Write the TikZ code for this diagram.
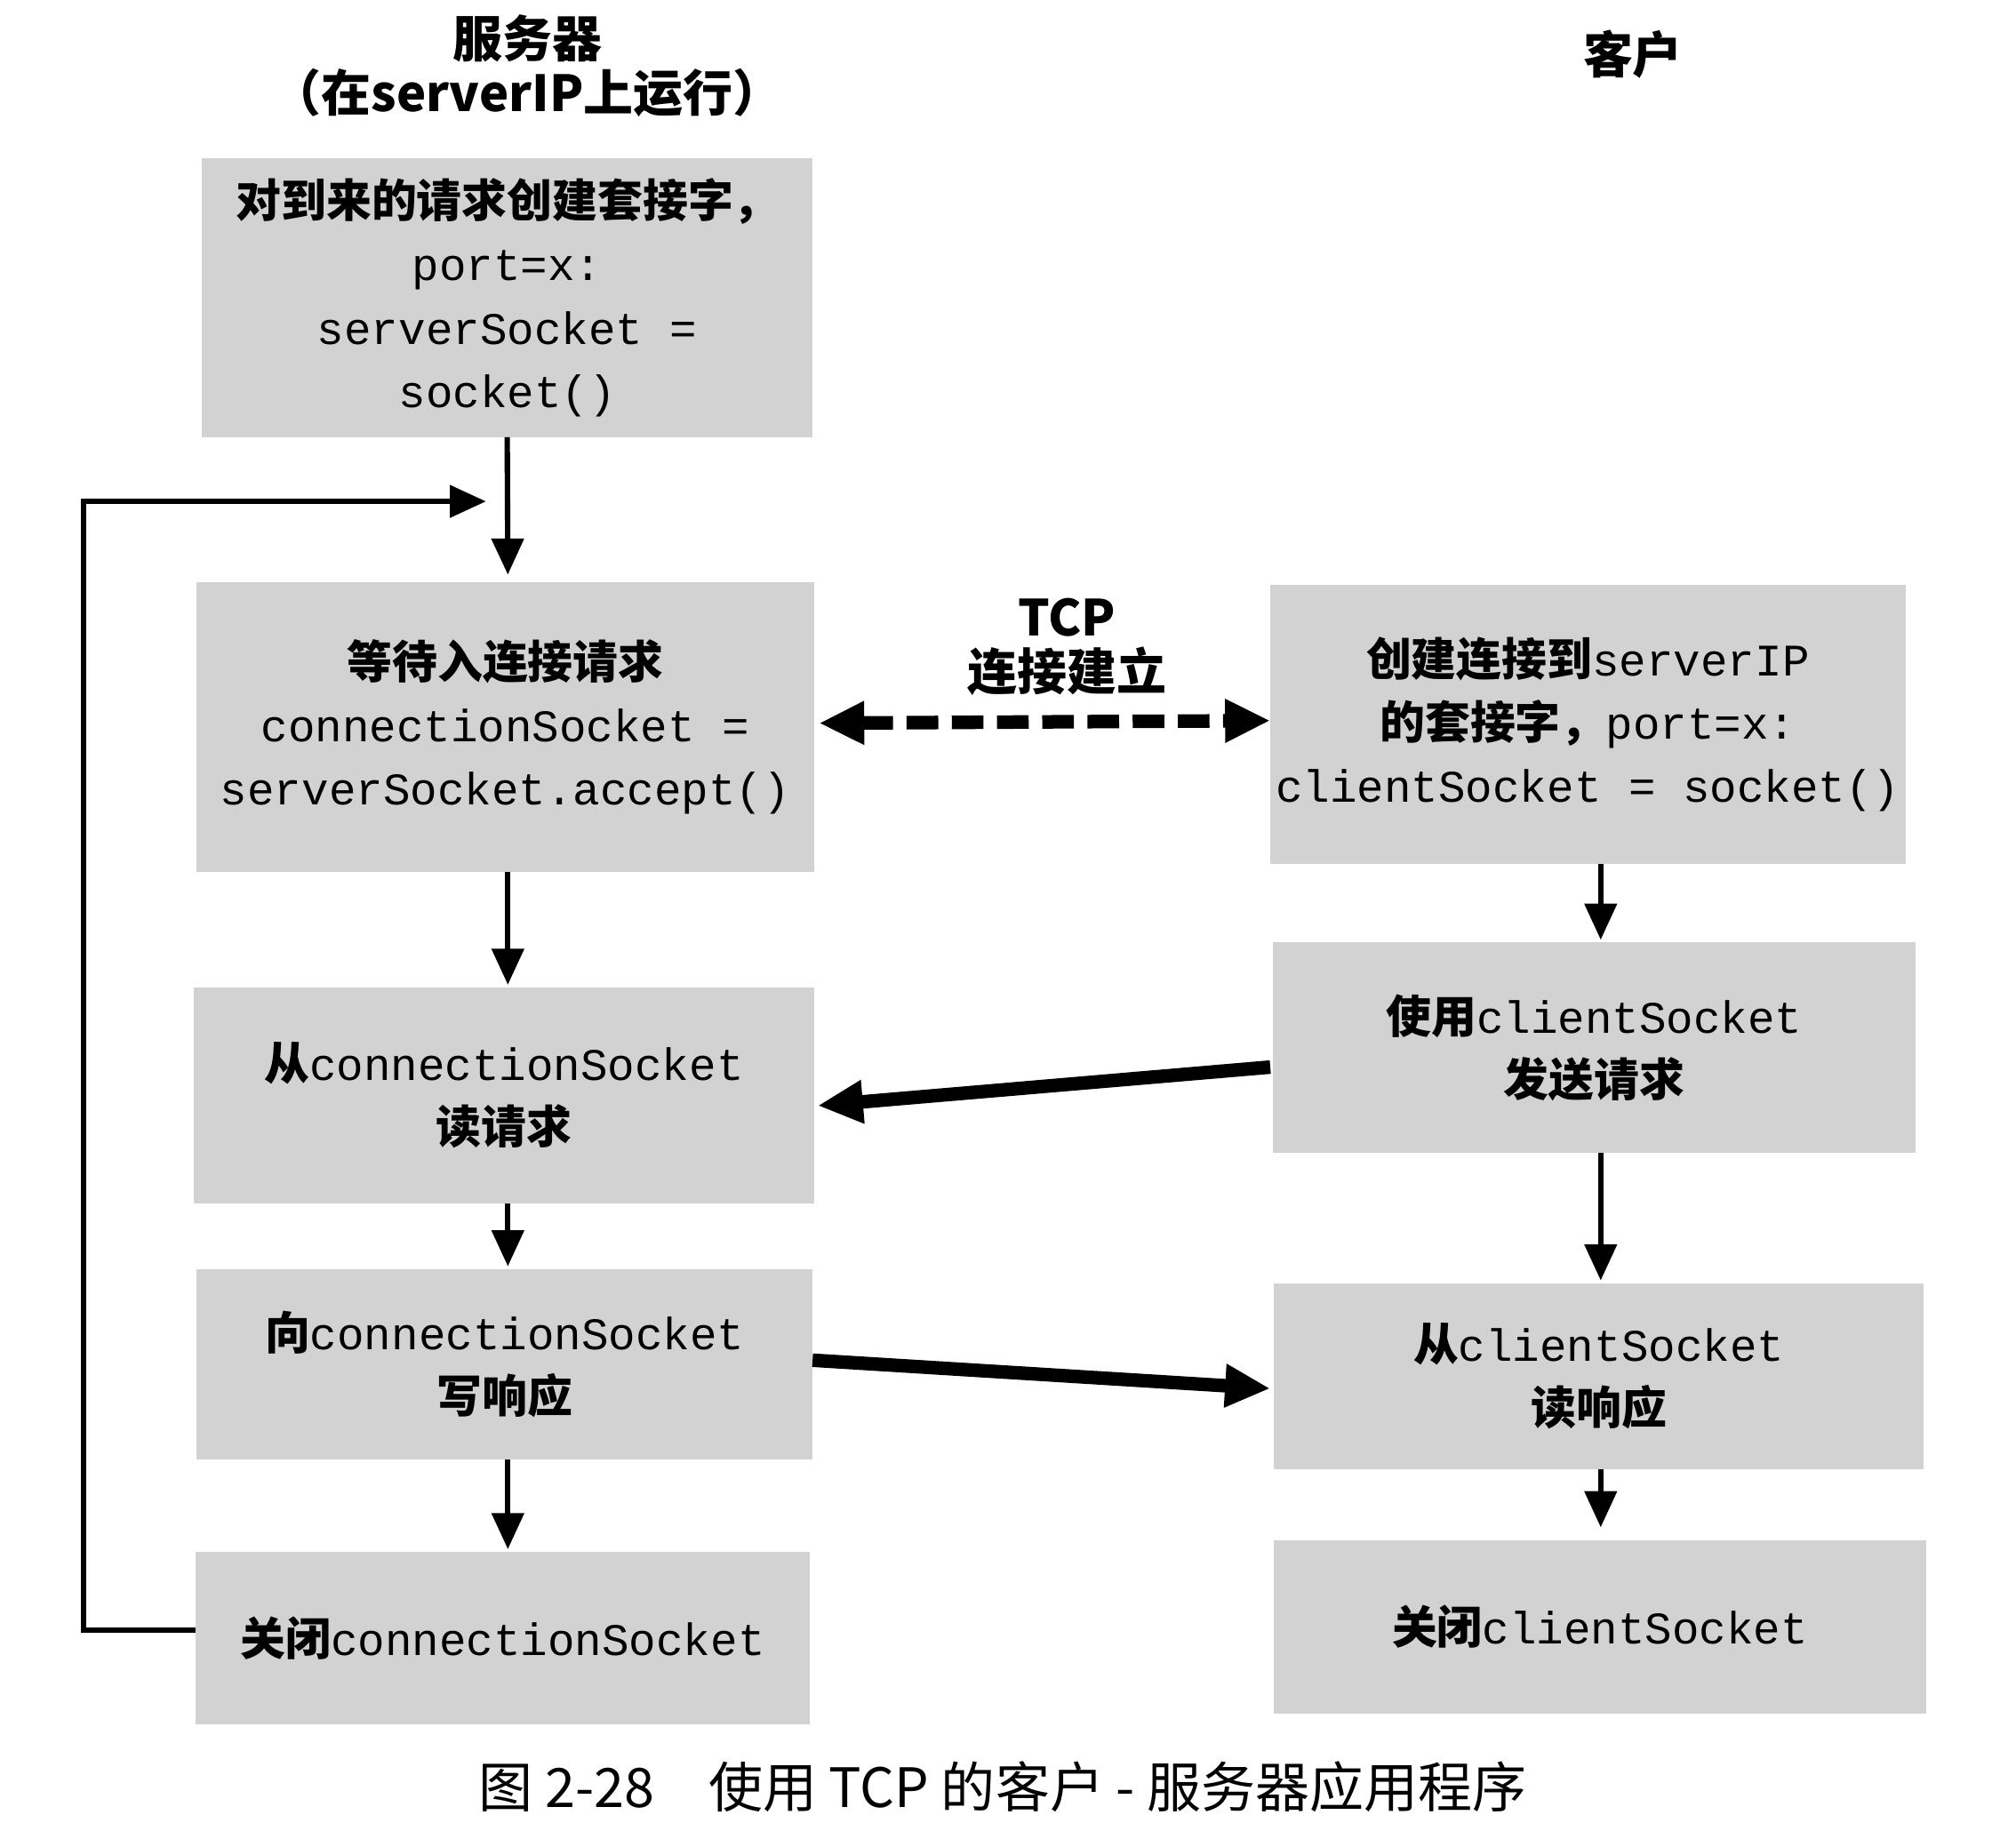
\documentclass[tikz,border=0pt]{standalone}
\usepackage{fontspec}
\setmainfont{Noto Sans CJK SC}
\setmonofont{Liberation Mono}
\usetikzlibrary{arrows.meta}
\newcommand{\tto}[1]{{\ttfamily\mdseries #1}}
\begin{document}
\begin{tikzpicture}[x=0.01cm,y=-0.01cm,
 box/.style={draw=none,align=center,inner sep=0pt,font=\fontsize{10}{14}\selectfont\bfseries},
 arr/.style={-{Triangle[length=8pt,width=7pt]},line width=1.2pt},
 fat/.style={-{Triangle[length=10pt,width=9pt]},line width=3pt}]
\useasboundingbox (0,0) rectangle (1568,1436);
\fill[white] (0,0) rectangle (1568,1436);
\newcommand{\bx}[6]{\fill[gray!35] (#2,#3) rectangle (#4,#5); \node[box] (#1) at ({(#2+#4)/2},{(#3+#5)/2}) {#6}; \coordinate (#1n) at ({(#2+#4)/2},#3); \coordinate (#1s) at ({(#2+#4)/2},#5); \coordinate (#1w) at (#2,{(#3+#5)/2}); \coordinate (#1e) at (#4,{(#3+#5)/2});}
\bx{s1}{157}{123}{632}{340}{对到来的请求创建套接字，\\\tto{port=x:}\\\tto{serverSocket =}\\\tto{socket()}}
\bx{s2}{153}{453}{633}{678}{等待入连接请求\\\tto{connectionSocket =}\\\tto{serverSocket.accept()}}
\bx{s3}{151}{768}{633}{936}{从\tto{connectionSocket}\\读请求}
\bx{s4}{153}{987}{632}{1135}{向\tto{connectionSocket}\\写响应}
\bx{s5}{152}{1207}{630}{1341}{关闭\tto{connectionSocket}}
\bx{c1}{988}{455}{1482}{672}{创建连接到\tto{serverIP}\\的套接字，\tto{port=x:}\\\tto{clientSocket = socket()}}
\bx{c2}{990}{733}{1490}{897}{使用\tto{clientSocket}\\发送请求}
\bx{c3}{991}{998}{1496}{1143}{从\tto{clientSocket}\\读响应}
\bx{c4}{991}{1198}{1498}{1333}{关闭\tto{clientSocket}}
\node[font=\fontsize{11}{14}\selectfont\bfseries] (t1) at (410,30) {服务器};
\node[font=\fontsize{11}{14}\selectfont\bfseries] (t2) at (410,72) {（在serverIP上运行）};
\node[font=\fontsize{11}{14}\selectfont\bfseries] (t3) at (1270,42) {客户};
\node[font=\fontsize{11}{14}\selectfont\bfseries,align=center] (tcp) at (830,503) {TCP\\[-2pt]连接建立};
\node[font=\fontsize{12}{14}\selectfont] (cap) at (780,1390) {图 2-28\quad 使用 TCP 的客户 - 服务器应用程序};
\draw[arr] (s1s) -- (395,447);
\draw[arr] (395,678) -- (395,766);
\draw[arr] (395,936) -- (395,985);
\draw[arr] (395,1135) -- (395,1205);
\draw[arr] (1245,672) -- (1245,731);
\draw[arr] (1245,897) -- (1245,996);
\draw[arr] (1245,1143) -- (1245,1188);
\coordinate (lp) at (378,390);
\draw[arr] (152,1268) -- (65,1268) -- (65,390) -- (lp);
\draw[line width=3pt,dash pattern=on 7pt off 3pt,{Triangle[length=10pt,width=9pt]}-{Triangle[length=10pt,width=9pt]}] (s2e) ++(4,-3) -- ([yshift=0.03cm]c1w);
\draw[fat] (988,830) -- (636,860);
\draw[fat] (632,1058) -- (988,1080);
\end{tikzpicture}
\end{document}
